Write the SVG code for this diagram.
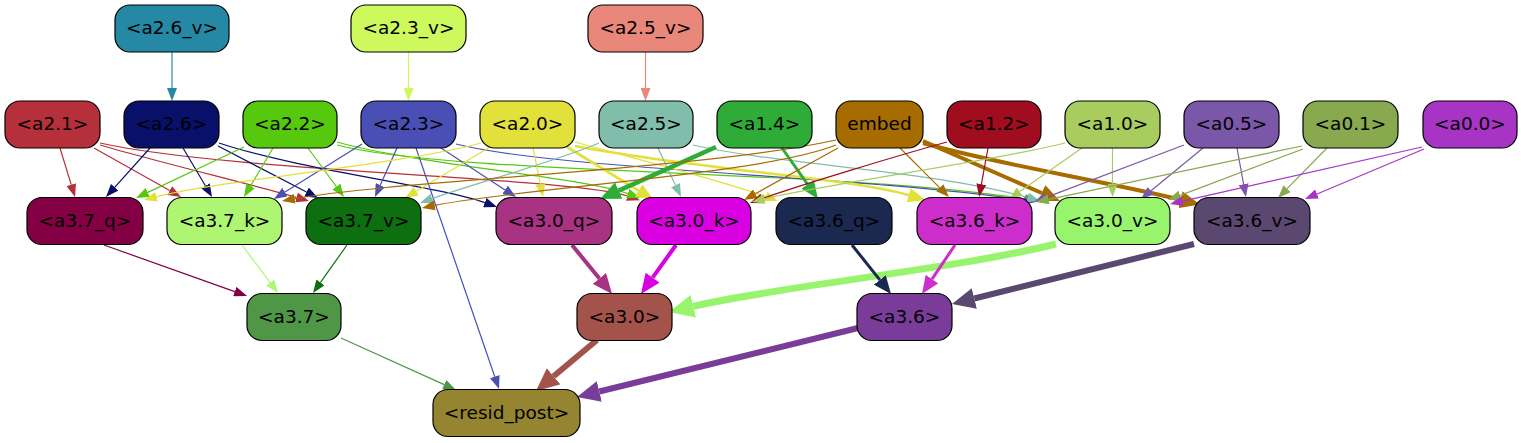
<svg xmlns="http://www.w3.org/2000/svg" width="1521" height="443" viewBox="0 0 1521 443">
<style>
.n rect{stroke:#000;stroke-width:1.2}
.n text{font-family:"DejaVu Sans","Liberation Sans",sans-serif;font-size:18.5px;text-anchor:middle;fill:#000}
#connectors path{fill:none;stroke-width:1.2}
.a26v{stroke:#2589a5}.a23v{stroke:#cdf95c}.a25v{stroke:#e9877a}.a21{stroke:#b5303a}.a26{stroke:#08106a}.a22{stroke:#56c90f}.a23{stroke:#4a4fb5}.a20{stroke:#e2e03a}.a25{stroke:#80bdab}.a14{stroke:#2fac37}.emb{stroke:#a66c00}.a12{stroke:#a00d1e}.a10{stroke:#a8cd5e}.a05{stroke:#7b57a9}.a01{stroke:#88a94e}.a00{stroke:#a834c6}.q37{stroke:#820043}.k37{stroke:#aef672}.v37{stroke:#0d6f10}.q30{stroke:#a83383}.k30{stroke:#d900e2}.v30{stroke:#98f46c}.q36{stroke:#1b2951}.k36{stroke:#cd2ecb}.v36{stroke:#5b4870}.n37{stroke:#4f9747}.n30{stroke:#a3534a}.n36{stroke:#793c99}
</style>
<defs>
<marker id="m-a26v" markerUnits="userSpaceOnUse" orient="auto" viewBox="0 0 13 10" markerWidth="13" markerHeight="10" refX="0" refY="5"><path d="M0,0L13,5L0,10z" fill="#2589a5"/></marker>
<marker id="m-a23v" markerUnits="userSpaceOnUse" orient="auto" viewBox="0 0 13 10" markerWidth="13" markerHeight="10" refX="0" refY="5"><path d="M0,0L13,5L0,10z" fill="#cdf95c"/></marker>
<marker id="m-a25v" markerUnits="userSpaceOnUse" orient="auto" viewBox="0 0 13 10" markerWidth="13" markerHeight="10" refX="0" refY="5"><path d="M0,0L13,5L0,10z" fill="#e9877a"/></marker>
<marker id="m-a21" markerUnits="userSpaceOnUse" orient="auto" viewBox="0 0 13 10" markerWidth="13" markerHeight="10" refX="0" refY="5"><path d="M0,0L13,5L0,10z" fill="#b5303a"/></marker>
<marker id="m-a26" markerUnits="userSpaceOnUse" orient="auto" viewBox="0 0 13 10" markerWidth="13" markerHeight="10" refX="0" refY="5"><path d="M0,0L13,5L0,10z" fill="#08106a"/></marker>
<marker id="m-a22" markerUnits="userSpaceOnUse" orient="auto" viewBox="0 0 13 10" markerWidth="13" markerHeight="10" refX="0" refY="5"><path d="M0,0L13,5L0,10z" fill="#56c90f"/></marker>
<marker id="m-a23" markerUnits="userSpaceOnUse" orient="auto" viewBox="0 0 13 10" markerWidth="13" markerHeight="10" refX="0" refY="5"><path d="M0,0L13,5L0,10z" fill="#4a4fb5"/></marker>
<marker id="m-a20" markerUnits="userSpaceOnUse" orient="auto" viewBox="0 0 13 10" markerWidth="13" markerHeight="10" refX="0" refY="5"><path d="M0,0L13,5L0,10z" fill="#e2e03a"/></marker>
<marker id="m-a25" markerUnits="userSpaceOnUse" orient="auto" viewBox="0 0 13 10" markerWidth="13" markerHeight="10" refX="0" refY="5"><path d="M0,0L13,5L0,10z" fill="#80bdab"/></marker>
<marker id="m-emb" markerUnits="userSpaceOnUse" orient="auto" viewBox="0 0 13 10" markerWidth="13" markerHeight="10" refX="0" refY="5"><path d="M0,0L13,5L0,10z" fill="#a66c00"/></marker>
<marker id="m-a12" markerUnits="userSpaceOnUse" orient="auto" viewBox="0 0 13 10" markerWidth="13" markerHeight="10" refX="0" refY="5"><path d="M0,0L13,5L0,10z" fill="#a00d1e"/></marker>
<marker id="m-a10" markerUnits="userSpaceOnUse" orient="auto" viewBox="0 0 13 10" markerWidth="13" markerHeight="10" refX="0" refY="5"><path d="M0,0L13,5L0,10z" fill="#a8cd5e"/></marker>
<marker id="m-a05" markerUnits="userSpaceOnUse" orient="auto" viewBox="0 0 13 10" markerWidth="13" markerHeight="10" refX="0" refY="5"><path d="M0,0L13,5L0,10z" fill="#7b57a9"/></marker>
<marker id="m-a01" markerUnits="userSpaceOnUse" orient="auto" viewBox="0 0 13 10" markerWidth="13" markerHeight="10" refX="0" refY="5"><path d="M0,0L13,5L0,10z" fill="#88a94e"/></marker>
<marker id="m-a00" markerUnits="userSpaceOnUse" orient="auto" viewBox="0 0 13 10" markerWidth="13" markerHeight="10" refX="0" refY="5"><path d="M0,0L13,5L0,10z" fill="#a834c6"/></marker>
<marker id="m-q37" markerUnits="userSpaceOnUse" orient="auto" viewBox="0 0 13 10" markerWidth="13" markerHeight="10" refX="0" refY="5"><path d="M0,0L13,5L0,10z" fill="#820043"/></marker>
<marker id="m-k37" markerUnits="userSpaceOnUse" orient="auto" viewBox="0 0 13 10" markerWidth="13" markerHeight="10" refX="0" refY="5"><path d="M0,0L13,5L0,10z" fill="#aef672"/></marker>
<marker id="m-v37" markerUnits="userSpaceOnUse" orient="auto" viewBox="0 0 13 10" markerWidth="13" markerHeight="10" refX="0" refY="5"><path d="M0,0L13,5L0,10z" fill="#0d6f10"/></marker>
<marker id="m-n37" markerUnits="userSpaceOnUse" orient="auto" viewBox="0 0 13 10" markerWidth="13" markerHeight="10" refX="0" refY="5"><path d="M0,0L13,5L0,10z" fill="#4f9747"/></marker>
<marker id="M-a20" markerUnits="userSpaceOnUse" orient="auto" viewBox="0 0 17.5 14.6" markerWidth="17.5" markerHeight="14.6" refX="0" refY="7.3"><path d="M0,0L17.5,7.3L0,14.6z" fill="#e2e03a"/></marker>
<marker id="M-a14a" markerUnits="userSpaceOnUse" orient="auto" viewBox="0 0 20.5 18" markerWidth="20.5" markerHeight="18" refX="0" refY="9"><path d="M0,0L20.5,9L0,18z" fill="#2fac37"/></marker>
<marker id="M-a14b" markerUnits="userSpaceOnUse" orient="auto" viewBox="0 0 18 15.2" markerWidth="18" markerHeight="15.2" refX="0" refY="7.6"><path d="M0,0L18,7.6L0,15.2z" fill="#2fac37"/></marker>
<marker id="M-emb" markerUnits="userSpaceOnUse" orient="auto" viewBox="0 0 20 17.2" markerWidth="20" markerHeight="17.2" refX="0" refY="8.6"><path d="M0,0L20,8.6L0,17.2z" fill="#a66c00"/></marker>
<marker id="M-q30" markerUnits="userSpaceOnUse" orient="auto" viewBox="0 0 20 17.2" markerWidth="20" markerHeight="17.2" refX="0" refY="8.6"><path d="M0,0L20,8.6L0,17.2z" fill="#a83383"/></marker>
<marker id="M-k30" markerUnits="userSpaceOnUse" orient="auto" viewBox="0 0 20 17.2" markerWidth="20" markerHeight="17.2" refX="0" refY="8.6"><path d="M0,0L20,8.6L0,17.2z" fill="#d900e2"/></marker>
<marker id="M-v30" markerUnits="userSpaceOnUse" orient="auto" viewBox="0 0 25 23.2" markerWidth="25" markerHeight="23.2" refX="0" refY="11.6"><path d="M0,0L25,11.6L0,23.2z" fill="#98f46c"/></marker>
<marker id="M-q36" markerUnits="userSpaceOnUse" orient="auto" viewBox="0 0 18 15.2" markerWidth="18" markerHeight="15.2" refX="0" refY="7.6"><path d="M0,0L18,7.6L0,15.2z" fill="#1b2951"/></marker>
<marker id="M-k36" markerUnits="userSpaceOnUse" orient="auto" viewBox="0 0 18 15.2" markerWidth="18" markerHeight="15.2" refX="0" refY="7.6"><path d="M0,0L18,7.6L0,15.2z" fill="#cd2ecb"/></marker>
<marker id="M-v36" markerUnits="userSpaceOnUse" orient="auto" viewBox="0 0 23 21.2" markerWidth="23" markerHeight="21.2" refX="0" refY="10.6"><path d="M0,0L23,10.6L0,21.2z" fill="#5b4870"/></marker>
<marker id="M-n30" markerUnits="userSpaceOnUse" orient="auto" viewBox="0 0 23 21.2" markerWidth="23" markerHeight="21.2" refX="0" refY="10.6"><path d="M0,0L23,10.6L0,21.2z" fill="#a3534a"/></marker>
<marker id="M-n36" markerUnits="userSpaceOnUse" orient="auto" viewBox="0 0 23 21.2" markerWidth="23" markerHeight="21.2" refX="0" refY="10.6"><path d="M0,0L23,10.6L0,21.2z" fill="#793c99"/></marker>
</defs>
<rect width="1521" height="443" fill="#fff"/>
<g id="connectors">
<path class="a26v" marker-end="url(#m-a26v)" d="M172,52L172,88"/>
<path class="a23v" marker-end="url(#m-a23v)" d="M408.5,52L408.5,88"/>
<path class="a25v" marker-end="url(#m-a25v)" d="M645.5,52L645.5,88"/>
<path class="a21" marker-end="url(#m-a21)" d="M60,148L71.2,184.6"/>
<path class="a21" marker-end="url(#m-a21)" d="M94,148L169.7,190.6"/>
<path class="a21" marker-end="url(#m-a21)" d="M100,145C150,160 258,186 296.5,197.4"/>
<path class="a21" marker-end="url(#m-a21)" d="M100,143C230,172 571,177 627.6,196"/>
<path class="a26" marker-end="url(#m-a26)" d="M150,148L114.7,187.3"/>
<path class="a26" marker-end="url(#m-a26)" d="M183,148L205.4,185.8"/>
<path class="a26" marker-end="url(#m-a26)" d="M218,146L306.5,192"/>
<path class="a26" marker-end="url(#m-a26)" d="M219,143C300,170 438,186 484.8,202.6"/>
<path class="a22" marker-end="url(#m-a22)" d="M244,147L147.8,192.4"/>
<path class="a22" marker-end="url(#m-a22)" d="M273,148L250.6,185.8"/>
<path class="a22" marker-end="url(#m-a22)" d="M308,148L336.3,186.5"/>
<path class="a22" marker-end="url(#m-a22)" d="M337,142C420,165 581,177 627.8,193.6"/>
<path class="a22" marker-end="url(#m-a22)" d="M337,145C450,175 850,170 1025,199"/>
<path class="a23" marker-end="url(#m-a23)" d="M362,144L285,192.1"/>
<path class="a23" marker-end="url(#m-a23)" d="M397,148L380.3,185.1"/>
<path class="a23" marker-end="url(#m-a23)" d="M416,148L494.8,376.7"/>
<path class="a23" marker-end="url(#m-a23)" d="M441,148L505.1,189.9"/>
<path class="a23" marker-end="url(#m-a23)" d="M456,144C560,170 850,175 1024,200"/>
<path class="a20" marker-end="url(#m-a20)" d="M481,143C400,165 220,180 156.6,196.7"/>
<path class="a20" marker-end="url(#m-a20)" d="M490,147L416.2,191.3"/>
<path class="a20" marker-end="url(#m-a20)" d="M533,148L540.4,184.3"/>
<path class="a20" marker-end="url(#M-a20)" style="stroke-width:2.7" d="M567,147L638.6,190.6"/>
<path class="a20" marker-end="url(#m-a20)" d="M575,142C640,160 720,180 765.8,196.6"/>
<path class="a20" marker-end="url(#M-a20)" style="stroke-width:2.5" d="M575,146C700,170 850,178 908.7,195.2"/>
<path class="a25" marker-end="url(#m-a25)" d="M599,143C560,160 470,185 432.2,198.6"/>
<path class="a25" marker-end="url(#m-a25)" d="M658,148L675.5,185.2"/>
<path class="a25" marker-end="url(#m-a25)" d="M693,145C780,165 930,170 1027.5,197.5"/>
<path class="a14" marker-end="url(#M-a14a)" style="stroke-width:4.5" d="M716,147L618.7,190.6"/>
<path class="a14" marker-end="url(#M-a14b)" style="stroke-width:3" d="M782,148L807.6,184.3"/>
<path class="emb" marker-end="url(#m-emb)" d="M836,140C700,170 400,180 294.8,198.7"/>
<path class="emb" marker-end="url(#m-emb)" d="M836,145C760,175 520,188 434.7,205.4"/>
<path class="emb" marker-end="url(#m-emb)" d="M838,148L755.4,193.7"/>
<path class="emb" marker-end="url(#m-emb)" d="M900,148L939.8,187.8"/>
<path class="emb" marker-end="url(#M-emb)" style="stroke-width:4" d="M923,141L1041.7,193"/>
<path class="emb" marker-end="url(#M-emb)" style="stroke-width:4" d="M923,143C1000,165 1100,180 1180.5,199.7"/>
<path class="a12" marker-end="url(#m-a12)" d="M947,142C900,155 800,185 762.2,198.6"/>
<path class="a12" marker-end="url(#m-a12)" d="M988,148L981.4,184.2"/>
<path class="a10" marker-end="url(#m-a10)" d="M1065,143C1000,160 820,185 764.6,198.8"/>
<path class="a10" marker-end="url(#m-a10)" d="M1082,148L1019.7,191.6"/>
<path class="a10" marker-end="url(#m-a10)" d="M1112.5,148L1112.5,184"/>
<path class="a05" marker-end="url(#m-a05)" d="M1184,145L1046.2,197.4"/>
<path class="a05" marker-end="url(#m-a05)" d="M1203,148L1151,190.7"/>
<path class="a05" marker-end="url(#m-a05)" d="M1237,148L1243.6,184.2"/>
<path class="a01" marker-end="url(#m-a01)" d="M1302,146L1048.7,199.3"/>
<path class="a01" marker-end="url(#m-a01)" d="M1303,149L1180.2,195.4"/>
<path class="a01" marker-end="url(#m-a01)" d="M1327,148L1287.1,188.7"/>
<path class="a00" marker-end="url(#m-a00)" d="M1422,147L1182.7,201.1"/>
<path class="a00" marker-end="url(#m-a00)" d="M1424,149L1317,194"/>
<path class="q37" marker-end="url(#m-q37)" d="M104,245L234.8,291.6"/>
<path class="k37" marker-end="url(#m-k37)" d="M242,245L270.2,282.6"/>
<path class="v37" marker-end="url(#m-v37)" d="M347,245L320.5,282.4"/>
<path class="q30" marker-end="url(#M-q30)" style="stroke-width:4" d="M572,245L599.4,278.5"/>
<path class="k30" marker-end="url(#M-k30)" style="stroke-width:4" d="M676,245L652.6,277.7"/>
<path class="v30" marker-end="url(#M-v30)" style="stroke-width:7" d="M1056,244C950,270 780,286 693.3,306.3"/>
<path class="q36" marker-end="url(#M-q36)" style="stroke-width:3" d="M852,245L879.8,279.9"/>
<path class="k36" marker-end="url(#M-k36)" style="stroke-width:3" d="M955,245L932,279.1"/>
<path class="v36" marker-end="url(#M-v36)" style="stroke-width:6" d="M1194,244L974.3,298.5"/>
<path class="n37" marker-end="url(#m-n37)" d="M341,338L444.2,384.6"/>
<path class="n30" marker-end="url(#M-n30)" style="stroke-width:6" d="M597,340L553.6,376.3"/>
<path class="n36" marker-end="url(#M-n36)" style="stroke-width:6" d="M858,328L599.3,391.5"/>
</g>
<g id="node-a2_6_v" class="n"><rect x="115" y="5" width="114" height="47" rx="15" fill="#2589a5"/><text x="172" y="34">&lt;a2.6_v&gt;</text></g>
<g id="node-a2_3_v" class="n"><rect x="351" y="5" width="115" height="47" rx="15" fill="#cdf95c"/><text x="408.5" y="34">&lt;a2.3_v&gt;</text></g>
<g id="node-a2_5_v" class="n"><rect x="588" y="5" width="115" height="47" rx="15" fill="#e9877a"/><text x="645.5" y="34">&lt;a2.5_v&gt;</text></g>
<g id="node-a2_1" class="n"><rect x="5" y="101" width="95" height="47" rx="15" fill="#b5303a"/><text x="52.5" y="130">&lt;a2.1&gt;</text></g>
<g id="node-a2_6" class="n"><rect x="124" y="101" width="95" height="47" rx="15" fill="#08106a"/><text x="171.5" y="130">&lt;a2.6&gt;</text></g>
<g id="node-a2_2" class="n"><rect x="243" y="101" width="94" height="47" rx="15" fill="#56c90f"/><text x="290" y="130">&lt;a2.2&gt;</text></g>
<g id="node-a2_3" class="n"><rect x="361" y="101" width="95" height="47" rx="15" fill="#4a4fb5"/><text x="408.5" y="130">&lt;a2.3&gt;</text></g>
<g id="node-a2_0" class="n"><rect x="480" y="101" width="95" height="47" rx="15" fill="#e2e03a"/><text x="527.5" y="130">&lt;a2.0&gt;</text></g>
<g id="node-a2_5" class="n"><rect x="599" y="101" width="94" height="47" rx="15" fill="#80bdab"/><text x="646" y="130">&lt;a2.5&gt;</text></g>
<g id="node-a1_4" class="n"><rect x="717" y="101" width="95" height="47" rx="15" fill="#2fac37"/><text x="764.5" y="130">&lt;a1.4&gt;</text></g>
<g id="node-embed" class="n"><rect x="836" y="101" width="87" height="47" rx="15" fill="#a66c00"/><text x="879.5" y="130">embed</text></g>
<g id="node-a1_2" class="n"><rect x="947" y="101" width="94" height="47" rx="15" fill="#a00d1e"/><text x="994" y="130">&lt;a1.2&gt;</text></g>
<g id="node-a1_0" class="n"><rect x="1065" y="101" width="95" height="47" rx="15" fill="#a8cd5e"/><text x="1112.5" y="130">&lt;a1.0&gt;</text></g>
<g id="node-a0_5" class="n"><rect x="1184" y="101" width="95" height="47" rx="15" fill="#7b57a9"/><text x="1231.5" y="130">&lt;a0.5&gt;</text></g>
<g id="node-a0_1" class="n"><rect x="1303" y="101" width="95" height="47" rx="15" fill="#88a94e"/><text x="1350.5" y="130">&lt;a0.1&gt;</text></g>
<g id="node-a0_0" class="n"><rect x="1423" y="101" width="94" height="47" rx="15" fill="#a834c6"/><text x="1470" y="130">&lt;a0.0&gt;</text></g>
<g id="node-a3_7_q" class="n"><rect x="27" y="197.5" width="116" height="47" rx="15" fill="#820043"/><text x="85" y="226.5">&lt;a3.7_q&gt;</text></g>
<g id="node-a3_7_k" class="n"><rect x="167" y="197.5" width="115" height="47" rx="15" fill="#aef672"/><text x="224.5" y="226.5">&lt;a3.7_k&gt;</text></g>
<g id="node-a3_7_v" class="n"><rect x="306" y="197.5" width="115" height="47" rx="15" fill="#0d6f10"/><text x="363.5" y="226.5">&lt;a3.7_v&gt;</text></g>
<g id="node-a3_0_q" class="n"><rect x="496" y="197.5" width="116" height="47" rx="15" fill="#a83383"/><text x="554" y="226.5">&lt;a3.0_q&gt;</text></g>
<g id="node-a3_0_k" class="n"><rect x="637" y="197.5" width="114" height="47" rx="15" fill="#d900e2"/><text x="694" y="226.5">&lt;a3.0_k&gt;</text></g>
<g id="node-a3_6_q" class="n"><rect x="776" y="197.5" width="116" height="47" rx="15" fill="#1b2951"/><text x="834" y="226.5">&lt;a3.6_q&gt;</text></g>
<g id="node-a3_6_k" class="n"><rect x="917" y="197.5" width="115" height="47" rx="15" fill="#cd2ecb"/><text x="974.5" y="226.5">&lt;a3.6_k&gt;</text></g>
<g id="node-a3_0_v" class="n"><rect x="1055" y="197.5" width="115" height="47" rx="15" fill="#98f46c"/><text x="1112.5" y="226.5">&lt;a3.0_v&gt;</text></g>
<g id="node-a3_6_v" class="n"><rect x="1194" y="197.5" width="116" height="47" rx="15" fill="#5b4870"/><text x="1252" y="226.5">&lt;a3.6_v&gt;</text></g>
<g id="node-a3_7" class="n"><rect x="247" y="293.5" width="94" height="47" rx="15" fill="#4f9747"/><text x="294" y="322.5">&lt;a3.7&gt;</text></g>
<g id="node-a3_0" class="n"><rect x="577" y="293.5" width="95" height="47" rx="15" fill="#a3534a"/><text x="624.5" y="322.5">&lt;a3.0&gt;</text></g>
<g id="node-a3_6" class="n"><rect x="857" y="293.5" width="95" height="47" rx="15" fill="#793c99"/><text x="904.5" y="322.5">&lt;a3.6&gt;</text></g>
<g id="node-resid_post" class="n"><rect x="433" y="389.5" width="147" height="47" rx="15" fill="#958530"/><text x="506.5" y="418.5">&lt;resid_post&gt;</text></g>
</svg>
